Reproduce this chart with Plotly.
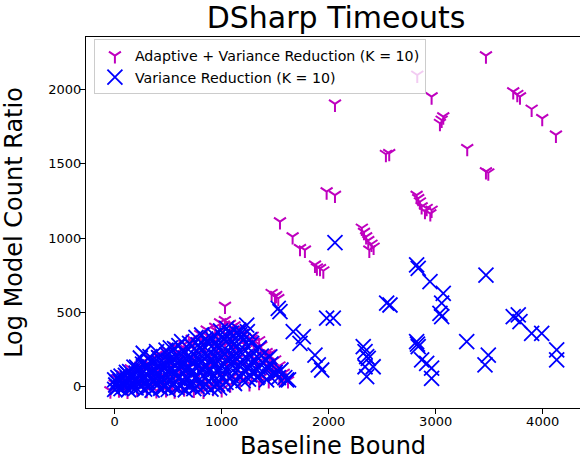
import plotly.graph_objects as go

# Adaptive + Variance Reduction (K = 10) -- magenta tri_down points
adaptive_x = [
    # dense cluster near the origin
    -40, 40, 120, 210, 300, 390, 480, 560, 650, 740, 830, 920, 1000,
    0, 90, 180, 270, 360, 450, 540, 630, 720, 810, 900, 990, 1080, 1170, 1260, 1350, 1440,
    20, 110, 200, 290, 380, 470, 560, 650, 740, 830, 920, 1010, 1100, 1190, 1280, 1370, 1460, 1540,
    70, 160, 250, 340, 430, 520, 610, 700, 790, 880, 970, 1060, 1150, 1240, 1330, 1420, 1510,
    150, 240, 330, 420, 510, 600, 690, 780, 870, 960, 1050, 1140, 1230, 1320, 1410, 1480,
    260, 350, 440, 530, 620, 710, 800, 890, 980, 1070, 1160, 1250, 1340, 1420,
    400, 490, 580, 670, 760, 850, 940, 1030, 1120, 1210, 1300, 1370,
    560, 650, 740, 830, 920, 1010, 1100, 1190, 1280, 1350,
    720, 800, 880, 960, 1040, 1120, 1200, 1290,
    860, 940, 1020, 1090, 1170,
    985, 1030, 1077, 1120,
    1450, 1500, 1540, 1580, 1620, 1480, 1560,
    # scattered large bounds
    3470, 2828, 2962, 2059, 3725, 3763, 3788, 3897, 3996, 4124,
    3071, 3056, 3040, 3295, 3470, 3492, 2535, 2566, 1981, 2059,
    2822, 2837, 2853, 2869, 2916, 2962, 2900, 2950,
    2310, 2330, 2350, 2370, 2400, 2420, 2380,
    1545, 1663, 1732, 1778, 1872, 1919, 1950, 1890,
    1467, 1498, 1529, 1510, 1031,
]
adaptive_y = [
    -28, -22, -30, -18, -25, -27, -20, -29, -15, -24, -30, -12, -20,
    18, 10, 25, 12, 20, 8, 22, 15, 30, 5, 18, 26, 12, 35, 20, 28, 40,
    52, 60, 48, 70, 55, 66, 58, 75, 62, 80, 70, 85, 65, 90, 72, 60, 95, 55,
    80, 95, 105, 110, 98, 120, 112, 130, 118, 135, 125, 140, 150, 130, 160, 145, 120,
    120, 140, 150, 135, 160, 155, 170, 150, 175, 165, 190, 180, 200, 185, 210, 170,
    165, 190, 200, 185, 210, 195, 225, 205, 230, 215, 240, 225, 260, 230,
    215, 240, 230, 250, 245, 270, 255, 280, 265, 290, 300, 275,
    270, 285, 295, 310, 300, 330, 315, 340, 320, 310,
    320, 350, 335, 370, 355, 380, 360, 340,
    381, 400, 415, 395, 385,
    430, 445, 420, 410,
    220, 180, 140, 90, 40, 100, 60,
    2229, 2099, 1953, 1904, 1987, 1969, 1953, 1870, 1807, 1695,
    1818, 1796, 1774, 1605, 1448, 1440, 1565, 1571, 1313, 1290,
    1290, 1268, 1245, 1212, 1201, 1189, 1180, 1165,
    1068, 1040, 1010, 985, 960, 940, 920,
    1111, 1010, 931, 920, 819, 796, 780, 800,
    628, 605, 594, 615, 542,
]

# Variance Reduction (K = 10) -- blue x points
vr_x = [
    0, 60, 130, 200, 280, 350, 430, 500, 580, 660, 740, 820, 900, 980,
    10, 80, 150, 230, 310, 390, 470, 550, 640, 720, 800, 880, 960, 1040, 1120, 1200,
    0, 50, 120, 190, 260, 340, 420, 500, 590, 670, 750, 830, 910, 990, 1080, 1160, 1250, 1330, 1420,
    30, 100, 170, 250, 330, 410, 490, 570, 650, 730, 810, 890, 970, 1050, 1130, 1210, 1290, 1370, 1450, 1530,
    60, 140, 220, 300, 380, 460, 540, 620, 700, 780, 860, 940, 1020, 1100, 1180, 1260, 1340, 1420, 1500,
    180, 260, 340, 420, 500, 580, 660, 740, 820, 900, 980, 1060, 1140, 1220, 1300, 1380, 1460,
    240, 330, 410, 490, 570, 650, 730, 810, 890, 970, 1050, 1130, 1210, 1290, 1370,
    267, 392, 480, 560, 640, 720, 800, 880, 960, 1040, 1120, 1200, 1280, 1350,
    520, 600, 700, 780, 860, 940, 1020, 1100, 1180, 1260,
    626, 760, 850, 930, 1010, 1090, 1170, 1240,
    813, 906, 990, 1070, 1141,
    1047, 1160, 1234,
    1414, 1554, 1625, 1500, 1590, 1450, 1420, 1607,
    # in-between points that fill the dense corner
    30, 95, 165, 240, 315, 395, 465, 540, 615, 690, 770, 850, 930, 1010,
    20, 85, 160, 235, 300, 375, 450, 525, 605, 680, 760, 845, 925, 1005, 1090, 1170, 1260, 1340,
    45, 120, 200, 275, 355, 440, 520, 600, 680, 760, 845, 925, 1010, 1090, 1175, 1255, 1330,
    110, 205, 290, 375, 455, 535, 615, 700, 785, 865, 945, 1030, 1110, 1195, 1275,
    2059, 1529, 1545, 1981, 2043, 1669, 1763, 1732, 1872, 1903, 1935,
    2323, 2340, 2355, 2340, 2355, 2370, 2416,
    2822, 2837, 2947, 3071, 3056, 3040, 3056, 3470, 2542, 2573,
    3725, 3772, 3788, 3897, 3991, 4131, 4131, 3290, 3492, 3461,
    2822, 2837, 2869, 2916, 2962, 2962, 2830,
]
vr_y = [
    -20, -15, -22, -10, -18, -25, -12, -20, -8, -22, -15, -5, -18, -10,
    10, 15, 5, 20, 8, 25, 12, 18, 30, 10, 22, 35, 15, 28, 20, 40,
    45, 35, 55, 40, 60, 50, 48, 65, 55, 70, 58, 75, 62, 80, 55, 70, 50, 60, 44,
    60, 75, 70, 85, 95, 80, 100, 90, 110, 95, 115, 105, 120, 100, 125, 110, 95, 85, 70, 60,
    70, 100, 115, 125, 110, 135, 120, 145, 130, 150, 140, 160, 150, 170, 155, 140, 130, 110, 95,
    130, 150, 165, 155, 175, 160, 190, 175, 200, 185, 210, 195, 220, 200, 180, 165, 150,
    192, 201, 195, 215, 205, 230, 220, 245, 230, 255, 240, 265, 250, 230, 205,
    224, 235, 245, 255, 240, 270, 260, 285, 270, 300, 285, 310, 290, 260,
    260, 275, 290, 280, 305, 295, 320, 305, 335, 315,
    302, 330, 320, 345, 335, 360, 350, 370,
    347, 325, 375, 360, 360,
    392, 380, 414,
    179, 111, 44, 80, 60, 200, 133, 44,
    -5, 0, -8, 2, -6, 4, -3, 6, -1, 8, 0, 10, 3, 12,
    28, 38, 30, 45, 35, 42, 50, 40, 58, 48, 62, 55, 68, 58, 72, 64, 78, 70,
    50, 85, 90, 100, 105, 115, 108, 122, 118, 130, 125, 140, 135, 145, 130, 120, 110,
    95, 130, 140, 150, 160, 165, 175, 185, 190, 200, 205, 215, 210, 220, 200,
    969, 527, 504, 460, 460, 369, 336, 291, 212, 145, 111,
    268, 235, 201, 133, 66, 190, 133,
    819, 796, 706, 628, 561, 493, 470, 751, 561, 549,
    470, 482, 437, 358, 358, 246, 179, 302, 212, 145,
    302, 268, 179, 156, 123, 55, 285,
]

font = "DejaVu Sans"

fig = go.Figure()
fig.add_trace(go.Scatter(
    x=adaptive_x, y=adaptive_y, mode="markers",
    name="Adaptive + Variance Reduction (K = 10)",
    marker=dict(symbol="y-down", size=10, color="#bf00bf",
                line=dict(color="#bf00bf", width=2)),
))
fig.add_trace(go.Scatter(
    x=vr_x, y=vr_y, mode="markers",
    name="Variance Reduction (K = 10)",
    marker=dict(symbol="x-thin", size=15, color="#0000ff",
                line=dict(color="#0000ff", width=1.8)),
))

fig.update_layout(
    width=580, height=461,
    margin=dict(l=86, r=0, t=37, b=53, autoexpand=False),
    paper_bgcolor="white", plot_bgcolor="white",
    font=dict(family=font, color="black"),
    title=dict(text="DSharp Timeouts", x=336 / 580, xanchor="center",
               y=0.961, yanchor="middle", font=dict(size=30, family=font)),
    showlegend=True,
    legend=dict(x=0.016, y=0.995, xanchor="left", yanchor="top",
                bgcolor="rgba(255,255,255,0.8)", bordercolor="#cccccc",
                borderwidth=1, font=dict(size=14.2, family=font)),
)
fig.update_xaxes(
    range=[-268, 4349], tickvals=[0, 1000, 2000, 3000, 4000],
    showgrid=False, zeroline=False, showline=True, linecolor="black",
    linewidth=1.2, mirror=True, ticks="outside", ticklen=5,
    tickcolor="black", tickfont=dict(size=13), automargin=False,
    ticklabelstandoff=-4,
    title=dict(text="Baseline Bound", font=dict(size=24), standoff=9),
)
fig.update_yaxes(
    range=[-145, 2355], tickvals=[0, 500, 1000, 1500, 2000],
    showgrid=False, zeroline=False, showline=True, linecolor="black",
    linewidth=1.2, ticks="outside", ticklen=5,
    tickcolor="black", tickfont=dict(size=13), automargin=False,
    ticklabelstandoff=-4,
    title=dict(text="Log Model Count Ratio", font=dict(size=24), standoff=23),
)

# drop the default 8px body margin so the figure sits at the window's corner
fig.write_html("out.html", config={"displayModeBar": False},
               post_script="document.body.style.margin = '0';")
